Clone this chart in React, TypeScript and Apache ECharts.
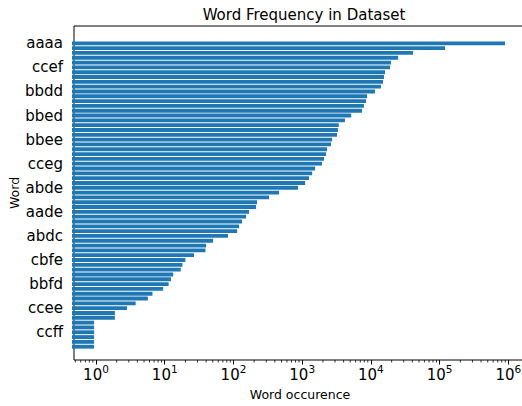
import React, { useEffect, useRef } from "react";
import * as echarts from "echarts";

const TITLE = "Word Frequency in Dataset";
const X_LABEL = "Word occurence";
const Y_LABEL = "Word";

// every 5th word is labelled on the axis (top to bottom)
const LABELED_WORDS = [
  "aaaa", "ccef", "bbdd", "bbed", "bbee", "cceg", "abde",
  "aade", "abdc", "cbfe", "bbfd", "ccee", "ccff",
];

// occurrences, top bar to bottom bar
const COUNTS = [
  895000, 121000, 41700, 25300, 20000, 19400, 16400, 15800, 15300, 14300,
  11700, 9000, 8700, 8100, 7600, 5300, 4300, 3500, 3400, 3300,
  2800, 2700, 2370, 2290, 2140, 2000, 1590, 1440, 1300, 1140,
  900, 478, 342, 229, 222, 176, 159, 139, 126, 118,
  87, 53, 42, 41, 28, 21, 19, 18, 14, 13,
  12, 10, 7, 6, 4, 3, 2, 2, 1, 1,
  1, 1, 1, 1,
];

const X_TICK_EXPONENTS = [0, 1, 2, 3, 4, 5, 6];
const X_LOG_MIN = -0.32;
const X_LOG_MAX = 6.256;

const FONT = "DejaVu Sans";
const BAR_COLOR = "#1f77b4";

export default function App() {
  const ref = useRef<HTMLDivElement>(null);

  useEffect(() => {
    if (!ref.current) return;
    const chart = echarts.init(ref.current, undefined, { renderer: "svg" });

    const categories = COUNTS.map((_, i) =>
      i % 5 === 0 ? LABELED_WORDS[i / 5] ?? "" : ""
    );
    const barData = COUNTS.map((c, i) => [i, Math.log10(c)]);

    // log-axis minor tick positions (2..9 x 10^k)
    const minorTicks: number[][] = [];
    for (let e = -1; e <= 6; e++) {
      for (let k = 2; k <= 9; k++) {
        const v = Math.log10(k) + e;
        if (v > X_LOG_MIN && v < X_LOG_MAX) minorTicks.push([v, 0]);
      }
    }

    const gridLeft = 72;
    const gridRight = 4; // chart div is 530 wide, the axes box ends at 526 (cropped)

    chart.setOption({
      animation: false,
      title: {
        text: TITLE,
        left: 299,
        textAlign: "center",
        top: 2,
        textStyle: { fontFamily: FONT, fontSize: 15, fontWeight: "normal", color: "#000" },
      },
      grid: [
        {
          left: gridLeft,
          right: gridRight,
          top: 26,
          bottom: 42,
          show: true,
          borderColor: "#000",
          borderWidth: 1,
          backgroundColor: "transparent",
        },
        {
          left: gridLeft,
          right: gridRight,
          top: 40.9,
          bottom: 56.9,
        },
      ],
      xAxis: [
        {
          type: "value",
          gridIndex: 0,
          min: X_LOG_MIN,
          max: X_LOG_MAX,
          splitLine: { show: false },
          axisLine: { show: false },
          axisTick: {
            show: true,
            length: 4.5,
            lineStyle: { color: "#000", width: 1 },
            customValues: X_TICK_EXPONENTS,
          },
          axisLabel: {
            margin: 3,
            customValues: X_TICK_EXPONENTS,
            formatter: (v: number) => {
              if (Math.abs(v - Math.round(v)) > 1e-6) return "";
              return `{b|10}{s|${Math.round(v)}}`;
            },
            rich: {
              b: { fontFamily: FONT, fontSize: 15, color: "#000", verticalAlign: "bottom", lineHeight: 19 },
              s: { fontFamily: FONT, fontSize: 10.5, color: "#000", verticalAlign: "top" },
            },
          },
          name: X_LABEL,
          nameLocation: "middle",
          nameGap: 28,
          nameTextStyle: { fontFamily: FONT, fontSize: 12.5, color: "#000" },
        },
        {
          type: "value",
          gridIndex: 1,
          min: X_LOG_MIN,
          max: X_LOG_MAX,
          show: false,
        },
      ],
      yAxis: [
        {
          type: "value",
          gridIndex: 0,
          min: 0,
          max: 1,
          axisLine: { show: false },
          axisTick: { show: false },
          axisLabel: { show: false },
          splitLine: { show: false },
          name: Y_LABEL,
          nameLocation: "middle",
          nameGap: 53,
          nameTextStyle: { fontFamily: FONT, fontSize: 12.5, color: "#000" },
        },
        {
          type: "category",
          gridIndex: 1,
          data: categories,
          inverse: true,
          axisLine: { show: false },
          axisTick: {
            show: true,
            alignWithLabel: true,
            interval: 4,
            length: 4.5,
            lineStyle: { color: "#000", width: 1 },
          },
          axisLabel: {
            interval: 4,
            margin: 9,
            fontFamily: FONT,
            fontSize: 15,
            color: "#000",
          },
          splitLine: { show: false },
        },
      ],
      series: [
        {
          type: "custom",
          xAxisIndex: 1,
          yAxisIndex: 1,
          clip: false,
          encode: { x: 1, y: 0 },
          data: barData,
          renderItem: (params: any, api: any) => {
            const idx = api.value(0);
            const lv = api.value(1);
            const start = api.coord([X_LOG_MIN, idx]);
            const end = api.coord([lv, idx]);
            const h = api.size([0, 1])[1] * 0.8;
            return {
              type: "rect",
              shape: { x: start[0], y: start[1] - h / 2, width: end[0] - start[0], height: h },
              style: { fill: BAR_COLOR },
            };
          },
        },
        {
          type: "custom",
          xAxisIndex: 0,
          yAxisIndex: 0,
          clip: false,
          silent: true,
          data: minorTicks,
          renderItem: (params: any, api: any) => {
            const p = api.coord([api.value(0), 0]);
            return {
              type: "line",
              shape: { x1: p[0], y1: p[1], x2: p[0], y2: p[1] + 2.5 },
              style: { stroke: "#000", lineWidth: 0.8 },
            };
          },
        },
      ],
    });

    return () => chart.dispose();
  }, []);

  return (
    <div
      style={{ position: "absolute", left: 0, top: 0, width: 522, height: 406, overflow: "hidden", background: "#fff" }}
    >
      <div ref={ref} style={{ width: 530, height: 406 }} />
    </div>
  );
}
